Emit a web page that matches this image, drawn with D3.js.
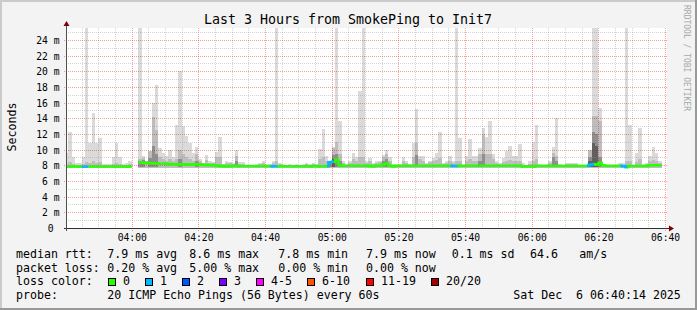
<!DOCTYPE html>
<html><head><meta charset="utf-8">
<script src="https://cdn.jsdelivr.net/npm/d3@7"></script>
<style>
html,body{margin:0;padding:0;background:#f3f3f3;}
svg{display:block;}
text{font-family:"DejaVu Sans Mono",monospace;fill:#000;white-space:pre;}
</style></head><body>
<svg id="chart" width="697" height="310"></svg>
<script>
const _ = null;
// ---------- DATA ----------
const title = "Last 3 Hours from SmokePing to Init7";
const yAxisTitle = "Seconds";
const sideNote = "RRDTOOL / TOBI OETIKER";
const firstSlot = new Date(2025, 11, 6, 3, 40, 0);   // one slot per minute
const viewStart = new Date(2025, 11, 6, 3, 40, 35);
const viewEnd   = new Date(2025, 11, 6, 6, 40, 35);
const xTickTimes = ["04:00","04:20","04:40","05:00","05:20","05:40","06:00","06:20","06:40"];
const yTickValues = [0,2,4,6,8,10,12,14,16,18,20,22,24];
const yTickLabels = ["0","2 m","4 m","6 m","8 m","10 m","12 m","14 m","16 m","18 m","20 m","22 m","24 m"];
const yMax = 25.53;

// median rtt (ms) per minute
const median = [
7.83,7.83,7.85,7.85,7.83,7.83,7.83,7.83,7.83,7.83,
7.83,7.83,7.83,7.83,7.83,7.83,7.83,7.83,7.83,7.85,
_,_,8.35,8.33,8.3,8.28,8.25,8.22,8.2,8.2,
8.18,8.16,8.14,8.12,8.1,8.12,8.1,8.08,8.1,8.12,
8.1,8.05,8.04,8.03,8.02,7.98,7.92,7.9,7.88,7.9,
7.92,7.92,7.9,7.9,7.9,7.9,7.9,7.9,7.9,7.9,
7.9,7.9,7.88,7.88,7.87,7.87,7.87,7.87,7.87,7.87,
7.87,7.87,7.87,7.87,7.9,7.9,7.87,7.87,7.87,8.4,
8.45,8.7,8.0,7.95,7.95,7.95,7.95,7.95,7.95,7.95,
7.95,7.92,7.88,7.95,7.95,8.1,8.2,7.95,7.88,7.95,
7.95,7.95,7.95,7.95,7.95,7.95,7.95,7.95,7.95,7.95,
7.95,7.95,7.95,7.95,7.95,7.95,7.92,7.92,7.95,7.95,
7.95,7.95,7.95,7.95,7.95,7.95,7.95,7.95,7.95,7.95,
7.95,7.95,7.95,7.95,7.95,7.95,7.95,7.85,7.85,7.85,
7.85,7.93,7.93,7.93,7.93,7.93,7.93,7.93,7.93,7.93,
7.93,7.93,7.93,7.93,7.93,7.93,7.93,8.05,8.15,8.1,
8.3,8.0,7.95,7.95,7.95,7.95,7.95,7.9,7.78,7.92,
7.92,7.92,7.92,7.92,7.92,8.0,8.0,8.0,8.0
];
// lost pings (of 20) per minute
const loss = [
0,0,0,0,0,1,1,0,0,0, 0,0,0,0,0,0,0,0,0,0,
_,_,0,0,0,0,0,0,0,0, 0,0,0,0,0,0,0,0,0,0,
0,0,0,0,0,0,0,0,0,0, 0,0,0,0,0,0,0,0,0,0,
0,0,1,1,0,0,0,0,0,0, 0,0,0,0,0,0,0,0,0,1,
1,0,0,0,0,0,0,0,0,0, 0,0,0,0,0,0,0,0,0,0,
0,0,0,0,0,0,0,0,0,0, 0,0,0,0,0,0,1,1,0,0,
0,0,0,0,0,0,0,0,0,0, 0,0,0,0,0,0,0,0,0,0,
0,0,0,0,0,0,0,0,0,0, 0,0,0,0,0,0,0,1,1,0,
0,0,0,0,0,0,0,1,1,0, 0,0,0,0,0,0,0,0,0
];
// smoke: highest ping (ms) per minute
const smokeMax = [
9.6,12.2,9.0,8.3,8.3,9.0,26,10.8,14.7,10.8,
11.5,8.2,8.2,8.2,9.0,10.9,9.0,8.2,8.3,8.5,
_,_,26,9.2,8.5,9.8,16.0,18.3,10.2,9.6,
9.2,10.0,9.0,13.2,20.1,13.0,11.7,10.8,9.6,10.4,
8.8,8.3,9.3,8.5,8.4,9.7,11.6,8.2,8.5,8.4,
8.3,9.9,8.4,8.4,8.1,8.1,8.1,8.2,8.3,8.5,
8.2,8.2,8.6,26,8.3,8.2,8.1,8.2,8.1,8.2,
8.1,8.2,8.3,8.2,8.3,8.2,10.1,12.7,9.2,8.5,
10.4,26,13.6,8.5,8.2,8.5,9.6,9.0,17.5,26,
8.5,8.9,8.3,8.5,8.6,9.3,10.0,9.1,8.2,8.1,
8.2,9.0,8.5,8.2,10.9,15.2,9.2,9.2,8.3,8.6,
8.9,9.6,12.2,8.3,8.5,9.2,8.5,26,11.5,8.0,
9.2,11.3,9.2,9.2,10.2,12.8,11.6,13.6,9.5,8.5,
8.3,8.9,9.8,10.5,9.2,9.2,10.7,8.3,8.1,8.5,
11.0,13.1,8.2,8.1,8.2,8.5,10.4,14.1,8.2,8.1,
8.3,8.3,8.3,8.3,8.1,8.1,8.1,10.0,26,26,
15.3,8.2,8.1,8.1,8.1,8.1,8.3,8.3,26,13.2,
8.1,9.6,12.8,8.2,8.3,9.2,10.3,9.6,8.5
];
// smoke: inner pings band top
const smokeMid = [
8.2,8.4,8.2,8.1,8.1,8.2,8.4,8.3,8.5,8.3,
8.4,8.1,8.1,8.1,8.2,8.3,8.2,8.1,8.1,8.2,
_,_,8.8,8.9,8.6,9.8,14.2,12.5,9.0,8.8,
8.6,8.8,8.5,8.8,10.0,9.5,9.0,8.8,8.5,9.5,
8.5,8.3,8.7,8.3,8.3,9.0,9.0,8.2,8.3,8.3,
8.2,9.2,8.2,8.2,8.1,8.1,8.1,8.1,8.2,8.3,
8.1,8.1,8.3,8.5,8.2,8.1,8.1,8.1,8.1,8.1,
8.1,8.1,8.2,8.1,8.2,8.1,8.8,9.0,8.5,8.5,
10.2,11.0,9.5,8.3,8.1,8.3,8.8,8.5,9.0,9.0,
8.3,8.5,8.2,8.3,8.4,9.0,9.5,8.6,8.1,8.1,
8.1,8.5,8.3,8.1,9.0,10.9,8.8,8.6,8.2,8.4,
8.5,8.7,8.9,8.2,8.3,8.6,8.3,8.6,8.6,8.0,
8.6,8.8,8.6,8.6,9.5,12.0,9.5,9.5,8.8,8.3,
8.2,8.4,8.6,8.7,8.5,8.5,8.6,8.1,8.0,8.2,
8.5,8.8,8.1,8.0,8.1,8.3,9.6,9.2,8.1,8.0,
8.2,8.2,8.2,8.2,8.0,8.0,8.0,10.0,14.3,14.3,
13.6,8.1,8.0,8.0,8.0,8.0,8.1,8.1,8.6,8.6,
8.0,8.4,8.8,8.1,8.2,8.5,8.7,8.6,8.3
];
// smoke: core band top
const smokeDark = [
_,_,_,_,_,_,_,_,_,_, _,_,_,_,_,_,_,_,_,_,
_,_,8.6,8.7,_,8.9,10.5,9.5,_,_, _,_,_,_,8.8,_,_,_,_,8.6,
_,_,_,_,_,_,_,_,_,_, _,8.5,_,_,_,_,_,_,_,_,
_,_,_,_,_,_,_,_,_,_, _,_,_,_,_,_,_,_,_,8.6,
9.3,9.5,8.5,_,_,_,_,_,_,_, _,_,_,_,_,8.6,8.8,_,_,_,
_,_,_,_,_,9.3,_,_,_,_, _,_,_,_,_,_,_,_,_,_,
_,_,_,_,8.6,9.5,_,_,_,_, _,_,_,_,_,_,_,_,_,_,
_,_,_,_,_,_,9.0,8.5,_,_, _,_,_,_,_,_,_,9.0,12.2,12.0,
9.0,_,_,_,_,_,_,_,_,_, _,_,_,_,_,_,_,_,_
];
// smoke: median-near band top
const smokeCore = [
_,_,_,_,_,_,_,_,_,_, _,_,_,_,_,_,_,_,_,_,
_,_,_,_,_,_,_,_,_,_, _,_,_,_,_,_,_,_,_,_,
_,_,_,_,_,_,_,_,_,_, _,_,_,_,_,_,_,_,_,_,
_,_,_,_,_,_,_,_,_,_, _,_,_,_,_,_,_,_,_,_,
8.8,_,_,_,_,_,_,_,_,_, _,_,_,_,_,_,_,_,_,_,
_,_,_,_,_,_,_,_,_,_, _,_,_,_,_,_,_,_,_,_,
_,_,_,_,_,_,_,_,_,_, _,_,_,_,_,_,_,_,_,_,
_,_,_,_,_,_,_,_,_,_, _,_,_,_,_,_,_,8.6,10.9,10.5,
_,_,_,_,_,_,_,_,_,_, _,_,_,_,_,_,_,_,_
];

const lossLabels = ["0","1","2","3","4-5","6-10","11-19","20/20"];
const lossColors = ["#26ff00","#00b8ff","#0059ff","#7e00ff","#ff00ff","#ff5500","#ff0000","#a00000"];
const rttLegend = ["median rtt:","7.9 ms avg","8.6 ms max","7.8 ms min","7.9 ms now","0.1 ms sd","64.6","am/s"];
const lossLegend = ["packet loss:","0.20 % avg","5.00 % max","0.00 % min","0.00 % now"];
const probeLegend = ["probe:","20 ICMP Echo Pings (56 Bytes) every 60s"];
const stamp = "Sat Dec  6 06:40:14 2025";

// ---------- LAYOUT ----------
const W = 697, H = 310;
const P = {left:67, right:667, top:28, bottom:228};
const svg = d3.select("#chart");
const x = d3.scaleTime().domain([viewStart, viewEnd]).range([P.left, P.right]);
const y = d3.scaleLinear().domain([0, yMax]).range([P.bottom, P.top]);
const slotTime = i => d3.timeMinute.offset(firstSlot, i);
const parseHM = d3.timeParse("%Y-%m-%d %H:%M");
const xTicks = xTickTimes.map(s => parseHM("2025-12-06 " + s));
const keepSpaces = s => s.replace(/ /g, "\u00a0");

// background + 3D frame
svg.append("rect").attr("width",W).attr("height",H).attr("fill","#f3f3f3");
svg.append("rect").attr("x",0).attr("y",0).attr("width",W).attr("height",2).attr("fill","#cbcbcb");
svg.append("rect").attr("x",0).attr("y",0).attr("width",2).attr("height",H).attr("fill","#cbcbcb");
svg.append("rect").attr("x",0).attr("y",H-2).attr("width",W).attr("height",2).attr("fill","#999999");
svg.append("rect").attr("x",W-2).attr("y",0).attr("width",2).attr("height",H).attr("fill","#999999");

// canvas
svg.append("rect").attr("x",P.left).attr("y",P.top).attr("width",P.right-P.left).attr("height",P.bottom-P.top).attr("fill","#ffffff");
svg.append("clipPath").attr("id","clip").append("rect")
  .attr("x",P.left).attr("y",P.top).attr("width",P.right-P.left).attr("height",P.bottom-P.top);

// smoke
const smokeG = svg.append("g").attr("clip-path","url(#clip)").attr("shape-rendering","crispEdges");
const layers = [
  {vals:smokeMax, floor:7.6, color:"#dadada"},
  {vals:smokeMid, floor:7.7, color:"#bdbdbd"},
  {vals:smokeDark, floor:7.75, color:"#8f8f8f"},
  {vals:smokeCore, floor:7.8, color:"#606060"}
];
layers.forEach(L => {
  smokeG.append("g").selectAll("rect")
    .data(L.vals.map((v,i)=>({v,i})).filter(d=>d.v!=null))
    .join("rect")
    .attr("x", d=>x(slotTime(d.i)))
    .attr("width", d=>x(slotTime(d.i+1))-x(slotTime(d.i)))
    .attr("y", d=>y(d.v))
    .attr("height", d=>y(L.floor)-y(d.v))
    .attr("fill", L.color);
});

// grid
const gridG = svg.append("g").attr("shape-rendering","crispEdges");
const minorT = d3.timeMinute.every(5).range(viewStart, viewEnd);
minorT.forEach(t => {
  const major = t.getMinutes() % 20 === 0;
  const xx = Math.round(x(t)) + 0.5;
  gridG.append("line").attr("x1",xx).attr("x2",xx).attr("y1",P.top).attr("y2",P.bottom + (major?3:1))
    .attr("stroke", major ? "rgba(240,0,0,0.38)" : "rgba(143,143,143,0.38)")
    .attr("stroke-dasharray","1,1");
});
d3.range(1, 26).forEach(v => {
  const major = v % 2 === 0;
  const yy = Math.round(y(v)) + 0.5;
  gridG.append("line").attr("x1",P.left - (major?3:1)).attr("x2",P.right).attr("y1",yy).attr("y2",yy)
    .attr("stroke", major ? "rgba(240,0,0,0.38)" : "rgba(143,143,143,0.38)")
    .attr("stroke-dasharray","1,1");
});

// median line colored by loss
const lossIdx = l => l===0?0: l===1?1: l===2?2: l===3?3: l<=5?4: l<=10?5: l<=19?6: 7;
const medG = svg.append("g").attr("clip-path","url(#clip)");
median.forEach((m,i) => {
  if (m == null) return;
  const x0 = x(slotTime(i)), x1 = x(slotTime(i+1)), yy = y(m);
  const c = lossColors[lossIdx(loss[i])];
  medG.append("line").attr("x1",x0).attr("x2",x1).attr("y1",yy).attr("y2",yy)
    .attr("stroke",c).attr("stroke-width",2.5);
  if (i>0 && median[i-1]!=null && median[i-1]!==m) {
    const yp = y(median[i-1]);
    medG.append("line").attr("x1",x0).attr("x2",x0)
      .attr("y1", yp < yy ? yp-1.25 : yp+1.25).attr("y2", yp < yy ? yy+1.25 : yy-1.25)
      .attr("stroke",c).attr("stroke-width",2.5);
  }
});

// axes
const xAxisG = svg.append("g").attr("transform",`translate(0,${P.bottom})`)
  .call(d3.axisBottom(x).tickValues(xTicks).tickFormat(d3.timeFormat("%H:%M")).tickSize(0));
xAxisG.select(".domain").remove();
xAxisG.selectAll("text").attr("dy",null).attr("y",13).style("font-size","9.7px")
  .style("font-family","'DejaVu Sans Mono',monospace").attr("fill","#000");

const yAxisG = svg.append("g").attr("transform",`translate(${P.left},0)`)
  .call(d3.axisLeft(y).tickValues(yTickValues).tickFormat((d,i)=>yTickLabels[i]).tickSize(0));
yAxisG.select(".domain").remove();
yAxisG.selectAll("text").attr("x", d => d===0 ? -13.5 : -7.5).attr("dy","0.36em")
  .style("font-size","9.7px").style("font-family","'DejaVu Sans Mono',monospace").attr("fill","#000");

// axis lines and arrows
svg.append("line").attr("x1",P.left-3).attr("x2",P.right+2).attr("y1",P.bottom+0.5).attr("y2",P.bottom+0.5)
  .attr("stroke","#303030").attr("shape-rendering","crispEdges");
svg.append("line").attr("x1",P.left-0.5).attr("x2",P.left-0.5).attr("y1",P.bottom+3).attr("y2",P.top-4)
  .attr("stroke","#505050").attr("shape-rendering","crispEdges");
svg.append("path").attr("d",`M${P.left-3.5},${P.top-2}L${P.left+2.5},${P.top-2}L${P.left-0.5},${P.top-7}Z`).attr("fill","#7f0000");
svg.append("path").attr("d",`M${P.right+2},${P.bottom-2.5}L${P.right+2},${P.bottom+3.5}L${P.right+7},${P.bottom+0.5}Z`).attr("fill","#7f0000");

// titles
svg.append("text").attr("x",348).attr("y",24).attr("text-anchor","middle").style("font-size","13.3px").text(title);
svg.append("text").attr("transform","translate(15.5,127) rotate(-90)").attr("text-anchor","middle")
  .style("font-size","11.6px").text(yAxisTitle);
svg.append("text").attr("transform","translate(684,5) rotate(90)").attr("text-anchor","start")
  .style("font-size","8px").style("fill","#a8a8a8").text(sideNote);

// legend
const legG = svg.append("g").style("font-size","11.6px");
const colX = [16,107.3,189.3,278.3,366,451.7,530,579.3];
const rowY = [258,271.7,285.4,299];
rttLegend.forEach((s,i)=> legG.append("text").attr("x",colX[i]).attr("y",rowY[0]).text(keepSpaces(s)));
lossLegend.forEach((s,i)=> legG.append("text").attr("x",colX[i]).attr("y",rowY[1]).text(keepSpaces(s)));
legG.append("text").attr("x",16).attr("y",rowY[2]).text("loss color:");
const boxX = [108.5,145.5,182.5,219.5,256.5,307.5,366.5,431.5];
lossLabels.forEach((s,i)=>{
  legG.append("rect").attr("x",boxX[i]).attr("y",278.5).attr("width",7).attr("height",7)
    .attr("fill",lossColors[i]).attr("stroke","#000").attr("stroke-width",1).attr("shape-rendering","crispEdges");
  legG.append("text").attr("x",boxX[i]+14.5).attr("y",rowY[2]).text(s);
});
probeLegend.forEach((s,i)=> legG.append("text").attr("x",colX[i]).attr("y",rowY[3]).text(keepSpaces(s)));
legG.append("text").attr("x",513.3).attr("y",rowY[3]).text(keepSpaces(stamp));
</script>
</body></html>
